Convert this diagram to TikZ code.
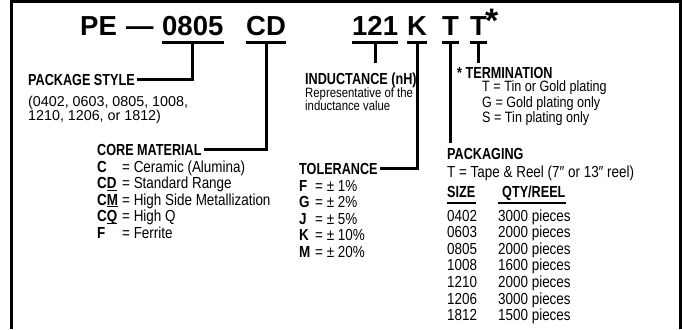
\documentclass[tikz,border=0pt]{standalone}
\usepackage{fontspec}
\setmainfont{Liberation Sans}
\newfontfamily\narrowfont[FakeStretch=0.84]{Liberation Sans}
\newfontfamily\headfont[FakeStretch=0.79]{Liberation Sans}
\usetikzlibrary{calc, positioning}

\begin{document}
\begin{tikzpicture}[
  x=1pt, y=1pt,
  code/.style={font=\fontsize{27.5}{30}\selectfont\bfseries, inner sep=0pt, anchor=base west},
  head/.style={font=\headfont\fontsize{16}{17}\selectfont\bfseries, inner sep=0pt, anchor=base west},
  body/.style={font=\narrowfont\fontsize{16}{16.6}\selectfont, inner sep=0pt, anchor=base west},
  note/.style={font=\fontsize{14.3}{13.5}\selectfont, inner sep=0pt, anchor=base west},
  bar/.style={line width=3pt},
  rule/.style={line width=1.5pt}
]

\useasboundingbox (0,0) rectangle (682,-329);

% Frame
\draw[line width=3pt] (11.2,-329) -- (11.2,-1.6) -- (680.6,-1.6) -- (680.6,-329);

% Part number
\node[code] (pe) at (80,-36) {PE};
\node[code] (dash) at (126,-36) {—};
\node[code] (size) at (162,-36) {0805};
\node[code] (core) at (246,-36) {CD};
\node[code] (ind) at (352,-36) {121};
\node[code] (tol) at (407,-36) {K};
\node[code] (pack) at (442,-36) {T};
\node[code] (term) at (470,-36) {T};
\node[code, font=\fontsize{34}{34}\selectfont\bfseries] (star) at (485,-33) {*};

% Underlines
\coordinate (sizeU) at ([yshift=-7pt]size.base);
\coordinate (coreU) at ([yshift=-7pt]core.base);
\coordinate (indU) at ([yshift=-7pt]ind.base);
\coordinate (tolU) at ([yshift=-7pt]tol.base);
\coordinate (packU) at ([yshift=-7pt]pack.base);
\coordinate (termU) at ([yshift=-7pt]term.base);
\draw[bar] ([yshift=-7pt]size.base west) -- ([yshift=-7pt]size.base east);
\draw[bar] ([yshift=-7pt]core.base west) -- ([yshift=-7pt]core.base east);
\draw[bar] ([yshift=-7pt]ind.base west) -- ([yshift=-7pt]ind.base east);
\draw[bar] ([yshift=-7pt]tol.base west) -- ([yshift=-7pt]tol.base east);
\draw[bar] ([yshift=-7pt]pack.base west) -- ([yshift=-7pt]pack.base east);
\draw[bar] ([yshift=-7pt]term.base west) -- ([yshift=-7pt]term.base east);

% Package style
\node[head] (hpkg) at (28,-85) {PACKAGE STYLE};
\node[note] (lpkg) at (28,-106) {\begin{tabular}[t]{@{}l@{}}
  (0402, 0603, 0805, 1008,\\
  1210, 1206, or 1812)
\end{tabular}};

% Inductance
\node[head] (hind) at (305,-84) {INDUCTANCE (nH)};
\node[note, font=\narrowfont\fontsize{13.5}{13.5}\selectfont] (lind) at (305,-97) {\begin{tabular}[t]{@{}l@{}}
  Representative of the\\
  inductance value
\end{tabular}};

% Termination
\node[head] (hterm) at (457,-78) {* TERMINATION};
\node[body, font=\narrowfont\fontsize{15}{14}\selectfont] (lterm) at (482,-92) {\begin{tabular}[t]{@{}l@{}}
  T = Tin or Gold plating\\
  G = Gold plating only\\
  S = Tin plating only
\end{tabular}};

% Core material
\node[head] (hcore) at (97,-155.5) {CORE MATERIAL};
\node[body] (lcore) at (97,-172) {\begin{tabular}[t]{@{}p{25pt}@{}l@{}}
  \textbf{C} & = Ceramic (Alumina)\\
  \textbf{C\underline{\smash{D}}} & = Standard Range\\
  \textbf{C\underline{\smash{M}}} & = High Side Metallization\\
  \textbf{C\underline{\smash{Q}}} & = High Q\\
  \textbf{F} & = Ferrite
\end{tabular}};

% Tolerance
\node[head] (htol) at (299,-174) {TOLERANCE};
\node[body] (ltol) at (299,-191) {\begin{tabular}[t]{@{}p{16pt}@{}l@{}}
  \textbf{F} & = ± 1\%\\
  \textbf{G} & = ± 2\%\\
  \textbf{J} & = ± 5\%\\
  \textbf{K} & = ± 10\%\\
  \textbf{M} & = ± 20\%
\end{tabular}};

% Packaging
\node[head] (hpack) at (447,-159) {PACKAGING};
\node[body] (lpack) at (447,-177) {T = Tape \& Reel (7″ or 13″ reel)};
\node[head] (hsize) at (447,-197) {SIZE};
\node[head] (hqty) at (502,-197) {QTY/REEL};
\draw[rule] ([yshift=-6pt]hsize.base west) -- ([yshift=-6pt]hsize.base east);
\draw[rule] ([xshift=-4pt, yshift=-6pt]hqty.base west) -- ([yshift=-6pt]hqty.base east);
\node[body] (lsize) at (447,-221) {\begin{tabular}[t]{@{}p{51pt}@{}l@{}}
  0402 & 3000 pieces\\
  0603 & 2000 pieces\\
  0805 & 2000 pieces\\
  1008 & 1600 pieces\\
  1210 & 2000 pieces\\
  1206 & 3000 pieces\\
  1812 & 1500 pieces
\end{tabular}};

% Leaders
\draw[bar] (sizeU) |- ([xshift=2pt]hpkg.east);
\draw[bar] (coreU) |- ([xshift=2pt]hcore.east);
\draw[bar] (tolU) |- ([xshift=2pt]htol.east);
\draw[bar] (indU) -- ++(0,-20);
\draw[bar] (termU) -- ++(0,-20);
\draw[bar] (packU) -- ($(packU |- hpack.north)+(0,5)$);

\end{tikzpicture}
\end{document}
